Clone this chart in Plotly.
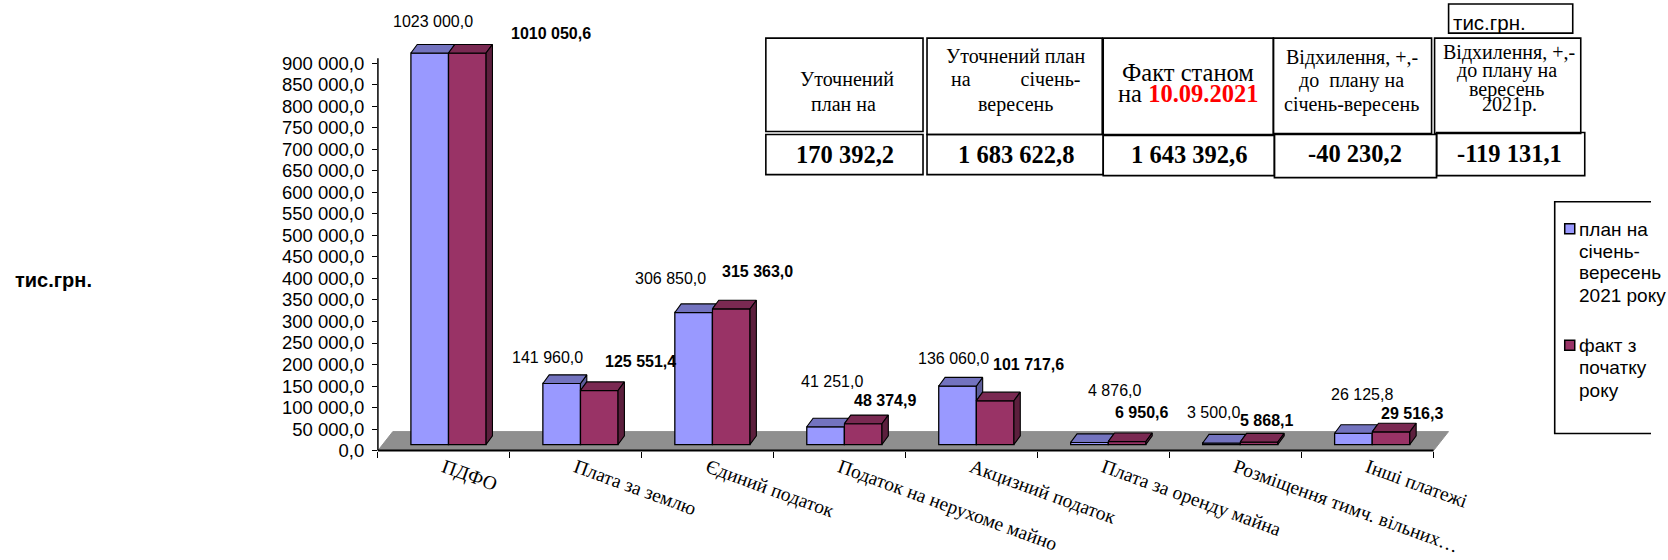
import plotly.graph_objects as go

W, H = 1668, 560

categories = ["ПДФО", "Плата за землю", "Єдиний податок", "Податок на нерухоме майно",
              "Акцизний податок", "Плата за оренду майна", "Розміщення тимч. вільних…", "Інші платежі"]
plan = [1023000.0, 141960.0, 306850.0, 41251.0, 136060.0, 4876.0, 3500.0, 26125.8]
fact = [1010050.6, 125551.4, 315363.0, 48374.9, 101717.6, 6950.6, 5868.1, 29516.3]
y_ticks = list(range(0, 900001, 50000))
series_names = ["план на<br>січень-<br>вересень<br>2021 року", "факт з<br>початку<br>року"]

# label centres in reference pixels (placed by hand in the original)
plan_label_xy = [(433, 21), (547, 356), (670, 278), (831, 380), (952, 357), (1113, 389), (1212, 411), (1360, 393)]
fact_label_xy = [(550, 33), (640, 360), (757, 271), (884, 399), (1027, 363), (1140, 411), (1265, 419), (1410, 412)]

BLUE, BLUE_TOP, BLUE_SIDE = "#9999FF", "#7373BF", "#5C5C99"
RED, RED_TOP, RED_SIDE = "#993366", "#7A2952", "#5C1F3D"
FLOOR = "#8F8F8F"

AX_MAX = 912000      # axis stops here, taller bars are cut off at CAP
CAP = 910000
BASE = 14000         # bars stand on the receding floor
DY = 20000           # 3D depth in value units
DX = 0.048           # 3D depth in category units
BW = 0.285
X0 = 0.25

# the photographed page comes out slightly reduced, so positions are stretched to land on the reference
SX, SY = 1.0108, 1.0217

PLOT_L, PLOT_R, AXIS_END = 377.5, 1452, 1432
PLOT_B, AXIS_TOP, PLOT_T = 449, 58, 38
Y_RANGE = (PLOT_B - PLOT_T) / (PLOT_B - AXIS_TOP) * AX_MAX
X_RANGE = (PLOT_R - PLOT_L) / (AXIS_END - PLOT_L) * 8

SANS = "Liberation Sans"
SERIF = "Liberation Serif"


def fmt(v):
    whole, frac = f"{v:.1f}".split(".")
    if len(whole) > 3:
        whole = whole[:-3] + " " + whole[-3:]
    return f"{whole},{frac}"


def px(x):
    return x * SX / W


def py(y):
    return 1 - y * SY / H


def top(v):
    return BASE + min(v, CAP)


fig = go.Figure()
fig.add_bar(x=[i + X0 + BW / 2 for i in range(8)], y=[min(v, CAP) for v in plan], base=BASE, width=BW,
            marker=dict(color=BLUE, line=dict(color="black", width=1.3)), hoverinfo="skip")
fig.add_bar(x=[i + X0 + 1.5 * BW for i in range(8)], y=[min(v, CAP) for v in fact], base=BASE, width=BW,
            marker=dict(color=RED, line=dict(color="black", width=1.3)), hoverinfo="skip")


def poly(points, color):
    fig.add_scatter(x=[p[0] for p in points] + [points[0][0]], y=[p[1] for p in points] + [points[0][1]],
                    mode="lines", fill="toself", fillcolor=color, line=dict(color="black", width=1.1),
                    hoverinfo="skip", showlegend=False)


for i in range(8):
    x0, x1, x2 = i + X0, i + X0 + BW, i + X0 + 2 * BW
    bt, rt = top(plan[i]), top(fact[i])
    if bt > rt:
        poly([(x1, rt), (x1 + DX, rt + DY), (x1 + DX, bt + DY), (x1, bt)], BLUE_SIDE)
        poly([(x0, bt), (x1, bt), (x1 + DX, bt + DY), (x0 + DX, bt + DY)], BLUE_TOP)
    elif bt == rt:
        poly([(x0, bt), (x1, bt), (x1 + DX, bt + DY), (x0 + DX, bt + DY)], BLUE_TOP)
    else:
        low = min(rt, bt + DY)
        poly([(x0, bt), (x1, bt), (x1, low), (x1 + DX * (bt + DY - low) / DY, bt + DY), (x0 + DX, bt + DY)], BLUE_TOP)
    poly([(x1, rt), (x2, rt), (x2 + DX, rt + DY), (x1 + DX, rt + DY)], RED_TOP)
    poly([(x2, BASE), (x2 + DX, BASE + DY), (x2 + DX, rt + DY), (x2, rt)], RED_SIDE)

shapes = [dict(type="path", layer="below", xref="x", yref="y", fillcolor=FLOOR,
               line=dict(color=FLOOR, width=1), path="M0,0 L8,0 L8.113,44000 L0.113,44000 Z"),
          dict(type="line", xref="paper", yref="paper", x0=px(PLOT_L), x1=px(PLOT_L), y0=py(PLOT_B), y1=py(AXIS_TOP),
               line=dict(color="black", width=1.5)),
          dict(type="line", xref="paper", yref="paper", x0=px(PLOT_L), x1=px(AXIS_END), y0=py(PLOT_B), y1=py(PLOT_B),
               line=dict(color="black", width=2))]


def box(x0, y0, x1, y1, w=1.6):
    shapes.append(dict(type="rect", xref="paper", yref="paper", x0=px(x0), x1=px(x1), y0=py(y1), y1=py(y0),
                       line=dict(color="black", width=w), fillcolor="rgba(0,0,0,0)"))


for b in [(765, 38, 922, 131), (926, 38, 1101, 134), (1102, 38, 1272, 134), (1272, 38, 1430, 133), (1433, 38, 1579, 133),
          (765, 134, 922, 174), (926, 134, 1102, 174), (1102, 135, 1273, 175), (1273, 134, 1435, 177), (1435, 132, 1583, 175),
          (1447, 4, 1571, 33)]:
    box(*b)
# legend frame runs up to the right edge of the page
FRAME_R = 1667 / W
shapes.append(dict(type="path", xref="paper", yref="paper", line=dict(color="black", width=1.6),
                   path=f"M{FRAME_R},{py(201)} L{px(1553)},{py(201)} L{px(1553)},{py(432)} L{FRAME_R},{py(432)}"))
shapes.append(dict(type="rect", xref="paper", yref="paper", x0=px(1563), x1=px(1573), y0=py(233), y1=py(223),
                   fillcolor=BLUE, line=dict(color="black", width=1.5)))
shapes.append(dict(type="rect", xref="paper", yref="paper", x0=px(1563), x1=px(1573), y0=py(349), y1=py(339),
                   fillcolor=RED, line=dict(color="black", width=1.5)))

ann = []


def text(x, y, s, size, family=SANS, anchor="center"):
    ann.append(dict(x=px(x), y=py(y), xref="paper", yref="paper", text=s, showarrow=False, xanchor=anchor,
                    yanchor="middle", font=dict(size=size, family=family, color="black"), borderpad=0, borderwidth=0))


for v, (x, y) in zip(plan, plan_label_xy):
    text(x, y, fmt(v), 16)
for v, (x, y) in zip(fact, fact_label_xy):
    text(x, y, f"<b>{fmt(v)}</b>", 16)

text(15, 279, "<b>тис.грн.</b>", 20, anchor="left")
text(1451, 22, "тис.грн.", 20.5, anchor="left")

HS = 20
text(846, 79, "Уточнений", HS, SERIF)
text(843, 104, "план на", HS, SERIF)
text(1014, 56, "Уточнений план", HS, SERIF)
text(1014, 79, "на" + "\u00a0" * 10 + "січень-", HS, SERIF)
text(1014, 104, "вересень", HS, SERIF)
text(1187, 72, "Факт станом", 24.5, SERIF)
text(1187, 93, 'на <span style="color:#FF0000"><b>10.09.2021</b></span>', 24.5, SERIF)
text(1351, 57, "Відхилення, +,-", HS, SERIF)
text(1350, 80, "до\u00a0\u00a0плану на", HS, SERIF)
text(1350, 104, "січень-вересень", HS, SERIF)
text(1507, 52, "Відхилення, +,-", HS, SERIF)
text(1505, 70, "до плану на", HS, SERIF)
text(1505, 89, "вересень", HS, SERIF)
text(1508, 104, "2021р.", HS, SERIF)

VS = 24.5
text(844, 154, "<b>170 392,2</b>", VS, SERIF)
text(1015, 154, "<b>1 683 622,8</b>", VS, SERIF)
text(1188, 154, "<b>1 643 392,6</b>", VS, SERIF)
text(1354, 153, "<b>-40 230,2</b>", VS, SERIF)
text(1508, 153, "<b>-119 131,1</b>", VS, SERIF)

for s, ys in zip(series_names, [(229, 251, 272, 294), (344, 366, 389)]):
    for line, y in zip(s.split("<br>"), ys):
        text(1577, y, line, 19, anchor="left")

fig.update_layout(
    width=W, height=H, margin=dict(l=0, r=0, t=0, b=0), paper_bgcolor="white", plot_bgcolor="rgba(0,0,0,0)",
    barmode="overlay", showlegend=False, shapes=shapes, annotations=ann,
    xaxis=dict(domain=[px(PLOT_L), px(PLOT_R)], range=[0, X_RANGE], showgrid=False, zeroline=False, showline=False,
               tickmode="array", tickvals=[i + 0.5 for i in range(8)],
               ticktext=categories, ticks="", tickangle=20, ticklabelstandoff=1,
               tickfont=dict(family=SERIF, size=19.5, color="black"),
               minor=dict(tickmode="array", tickvals=list(range(9)), ticks="outside", ticklen=6, tickwidth=1,
                          tickcolor="black", showgrid=False)),
    yaxis=dict(domain=[py(PLOT_B), py(PLOT_T)], range=[0, Y_RANGE], showgrid=False, zeroline=False, showline=False,
               tickmode="array", tickvals=y_ticks,
               ticktext=[fmt(v) for v in y_ticks], ticks="outside", ticklen=5, tickwidth=1, tickcolor="black",
               ticklabelstandoff=4, tickfont=dict(family=SANS, size=18.5, color="black")),
)
fig.write_html("out.html", post_script="document.body.style.margin='0';document.body.style.overflow='hidden';",
               config={"displayModeBar": False})
